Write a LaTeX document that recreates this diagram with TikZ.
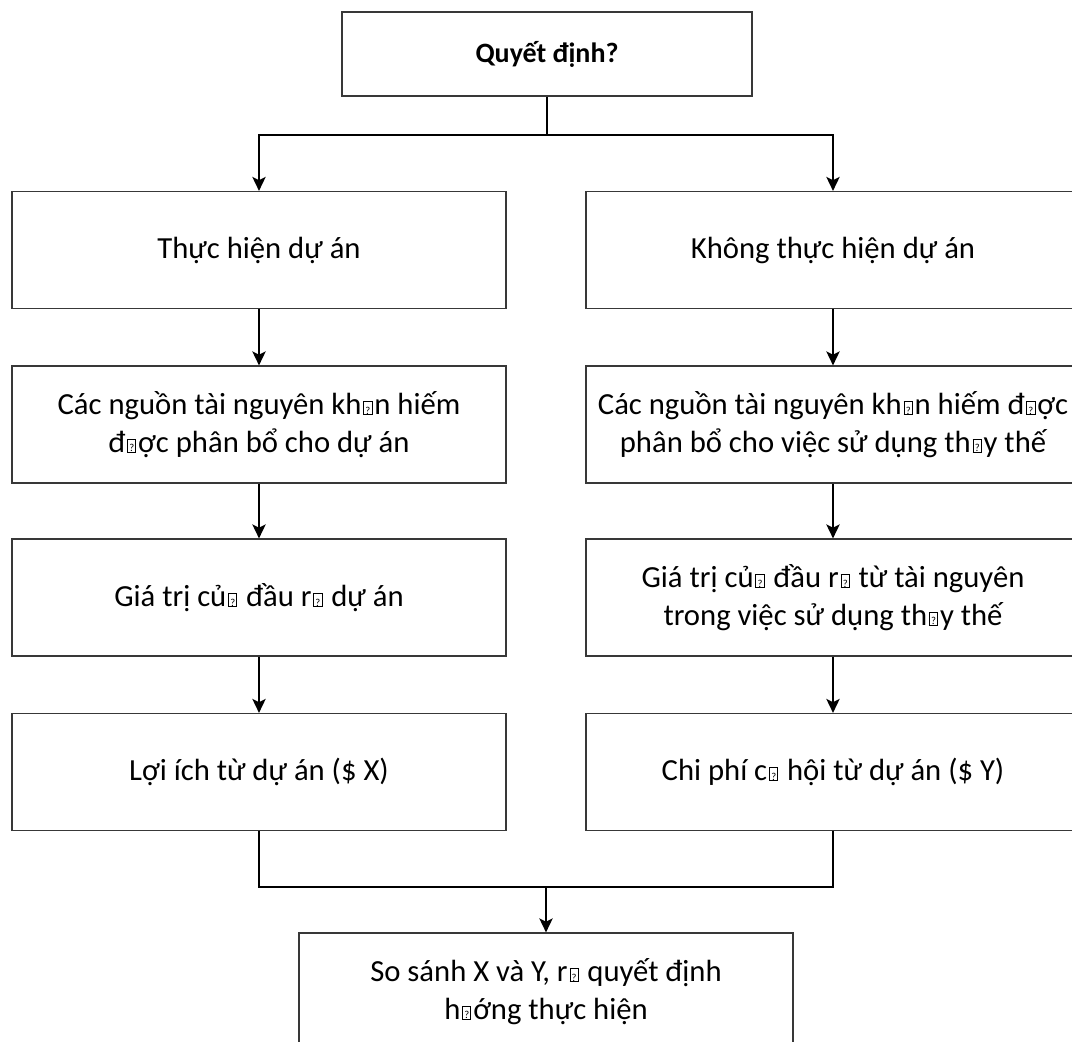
\documentclass[tikz,border=0pt]{standalone}
\usepackage{fontspec}
\setmainfont{Carlito}
\usetikzlibrary{arrows.meta}

% placeholder glyph: small framed box with a question mark
\newcommand\tofu{\kern0.06em\raisebox{0.01em}{\setlength\fboxsep{0pt}\setlength\fboxrule{0.03em}\fbox{\makebox[0.24em]{\rule{0pt}{0.4em}\fontsize{8pt}{8pt}\selectfont ?}}}\kern0.06em}

\begin{document}
\begin{tikzpicture}[x=0.75pt,y=-0.75pt,
  stepbox/.style={draw=black!78,line width=0.9pt,fill=white,
    minimum width=370.5pt,minimum height=87.75pt,align=center,inner sep=0pt,
    font=\fontsize{23pt}{28pt}\selectfont},
  link/.style={line width=1.5pt,black},
  arr/.style={link,-{Stealth[length=10.5pt,width=10pt,inset=2.5pt]}}]

\useasboundingbox (0,0) rectangle (1072,1042);

\node[stepbox,minimum width=307.5pt,minimum height=63pt,
      font=\fontsize{21pt}{25pt}\selectfont\bfseries] (top) at (547,54) {Quyết định?};

\node[stepbox] (L1) at (259,250) {Thực hiện dự án};
\node[stepbox] (R1) at (833,250) {Không thực hiện dự án};

\node[stepbox] (L2) at (259,424.5) {Các nguồn tài nguyên kh\tofu n hiếm\\đ\tofu ợc phân bổ cho dự án};
\node[stepbox] (R2) at (833,424.5) {Các nguồn tài nguyên kh\tofu n hiếm đ\tofu ợc\\phân bổ cho việc sử dụng th\tofu y thế};

\node[stepbox] (L3) at (259,597.5) {Giá trị củ\tofu{} đầu r\tofu{} dự án};
\node[stepbox] (R3) at (833,597.5) {Giá trị củ\tofu{} đầu r\tofu{} từ tài nguyên\\trong việc sử dụng th\tofu y thế};

\node[stepbox] (L4) at (259,772) {Lợi ích từ dự án (\$ X)};
\node[stepbox] (R4) at (833,772) {Chi phí c\tofu{} hội từ dự án (\$ Y)};

\node[stepbox] (B) at (546,991.5) {So sánh X và Y, r\tofu{} quyết định\\h\tofu ớng thực hiện};

% branching below the decision
\coordinate (split) at (547,135);
\draw[link] (top) -- (split);
\draw[arr] (split) -| (L1);
\draw[arr] (split) -| (R1);

% the two chains
\draw[arr] (L1) -- (L2);
\draw[arr] (L2) -- (L3);
\draw[arr] (L3) -- (L4);
\draw[arr] (R1) -- (R2);
\draw[arr] (R2) -- (R3);
\draw[arr] (R3) -- (R4);

% joining into the comparison
\coordinate (merge) at (546,887);
\draw[link] (L4) |- (merge) -| (R4);
\draw[arr] (merge) -- (B);
\end{tikzpicture}
\end{document}
